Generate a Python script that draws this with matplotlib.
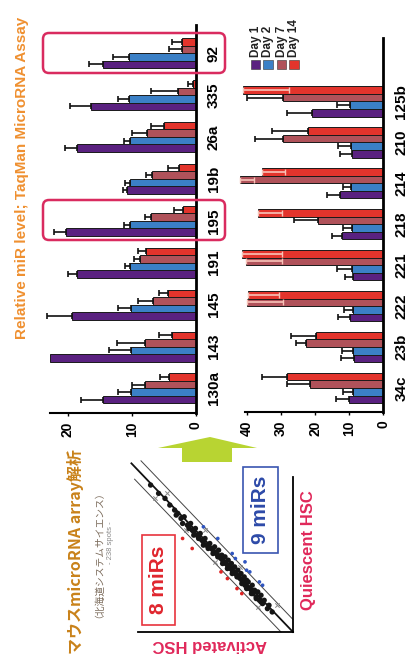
import matplotlib
matplotlib.use("Agg")
import matplotlib.pyplot as plt
import numpy as np
from matplotlib.patches import Rectangle, FancyBboxPatch, Polygon

plt.rcParams["font.family"] = ["Liberation Sans", "Noto Sans CJK JP", "DejaVu Sans"]

W, H = 420, 659

# ---- TaqMan panel A (relative miR level) ----
mirs_a = ["130a", "143", "145", "191", "195", "19b", "26a", "335", "92"]
a_day1 = [14.5, 22.7, 19.4, 18.6, 20.3, 10.7, 18.5, 16.4, 14.5]
a_day1_err = [3.5, 0.0, 3.8, 1.3, 1.9, 0.7, 1.9, 3.3, 2.1]
a_day2 = [10.1, 10.1, 10.1, 10.3, 10.3, 10.3, 10.3, 10.4, 10.5]
a_day2_err = [2.0, 3.5, 2.0, 0.7, 0.9, 0.7, 0.9, 1.8, 2.4]
a_day7 = [8.0, 8.0, 6.6, 8.7, 7.0, 6.9, 7.6, 2.7, 2.2]
a_day7_err = [2.0, 4.3, 2.4, 1.0, 0.9, 0.8, 2.4, 4.3, 1.9]
a_day14 = [4.1, 3.75, 4.3, 7.8, 2.0, 2.6, 4.9, 0.5, 2.2]
a_day14_err = [1.5, 1.95, 1.4, 1.2, 1.4, 1.7, 2.1, 0.75, 1.55]
a_ticks = [0, 10, 20]

# ---- TaqMan panel B ----
mirs_b = ["34c", "23b", "222", "221", "218", "214", "210", "125b"]
b_day1 = [10.0, 8.6, 9.8, 9.0, 12.2, 12.7, 9.3, 21.0]
b_day1_err = [3.9, 3.8, 3.4, 2.2, 2.9, 3.9, 3.4, 7.3]
b_day2 = [9.0, 8.8, 9.0, 9.3, 9.3, 9.6, 9.6, 9.8]
b_day2_err = [2.9, 3.4, 2.5, 4.4, 2.4, 2.1, 3.6, 3.9]
b_day7 = [21.5, 22.6, 39.8, 40.2, 19.0, 42.1, 29.3, 29.5]
b_day7_err = [6.8, 3.1, 0.0, 0.0, 7.1, 0.0, 8.3, 10.5]
b_day7_inner = [0.0, 0.0, 10.5, 10.4, 0.0, 4.1, 0.0, 0.0]
b_day14 = [28.1, 19.7, 39.5, 41.5, 36.6, 35.6, 22.0, 41.2]
b_day14_err = [7.5, 7.3, 0.0, 0.0, 0.0, 0.0, 10.7, 0.0]
b_day14_inner = [0.0, 0.0, 9.1, 11.7, 6.8, 6.8, 0.0, 13.7]
b_ticks = [0, 10, 20, 30, 40]

day_labels = ["Day 1", "Day 2", "Day 7", "Day 14"]
day_colors = ["#5a2180", "#3b80c6", "#b0525a", "#e3342c"]

# ---- microarray scatter (Activated vs Quiescent HSC) ----
black_a = [1.3, 1.5, 1.6, 1.8, 1.9, 2.0, 2.1, 2.2, 2.3, 2.4, 2.5, 2.55, 2.6, 2.7, 2.8, 2.85,
           2.9, 3.0, 3.05, 3.1, 3.2, 3.25, 3.3, 3.4, 3.45, 3.5, 3.6, 3.65, 3.7, 3.8, 3.85, 3.9,
           4.0, 4.05, 4.1, 4.2, 4.25, 4.3, 4.4, 4.45, 4.5, 4.6, 4.65, 4.7, 4.8, 4.9, 5.0, 5.1,
           5.2, 5.3, 5.4, 5.5, 5.6, 5.7, 5.8, 5.9, 6.0, 6.1, 6.2, 6.3, 6.4, 6.5, 6.6, 6.8,
           7.0, 7.2, 7.4, 7.7, 8.0, 8.4, 8.9]
black_q = [1.2, 1.6, 1.4, 1.9, 1.7, 2.2, 1.9, 2.4, 2.1, 2.5, 2.3, 2.8, 2.5, 2.6, 3.0, 2.7,
           3.1, 2.8, 3.3, 3.0, 3.1, 3.5, 3.2, 3.3, 3.7, 3.4, 3.5, 3.9, 3.6, 3.7, 4.1, 3.8,
           3.9, 4.3, 4.0, 4.1, 4.5, 4.2, 4.3, 4.6, 4.4, 4.5, 4.9, 4.6, 4.7, 5.1, 4.9, 5.0,
           5.3, 5.1, 5.2, 5.6, 5.4, 5.5, 5.9, 5.7, 5.8, 6.2, 6.0, 6.1, 6.5, 6.3, 6.4, 6.9,
           6.8, 7.1, 7.3, 7.6, 8.0, 8.3, 8.8]
black2_a = [2.0, 2.3, 2.6, 2.9, 3.2, 3.5, 3.8, 4.1, 4.4, 4.7, 5.0, 5.3, 5.6, 5.9, 6.2, 6.5, 6.9, 7.3]
black2_q = [1.8, 2.0, 2.3, 2.6, 2.9, 3.3, 3.5, 3.8, 4.1, 4.5, 4.7, 5.0, 5.2, 5.6, 5.8, 6.2, 6.5, 7.0]
grey_a = [1.0, 2.2, 3.3, 4.9, 5.5, 6.7, 7.9, 8.6]
grey_q = [1.6, 1.5, 3.9, 4.2, 6.1, 6.1, 8.3, 8.0]
up_a = [8.2, 7.6, 6.9, 6.3, 4.5, 4.1, 3.5, 3.2]
up_q = [5.6, 5.5, 5.6, 5.0, 3.6, 3.2, 2.6, 2.3]
down_a = [5.6, 4.7, 3.8, 3.6, 3.0, 2.9, 2.7, 2.1, 1.9]
down_q = [6.3, 5.6, 4.7, 4.4, 4.2, 3.7, 3.6, 3.0, 2.8]
fold_band = 0.75

fig = plt.figure(figsize=(W / 100, H / 100), dpi=100)
fig.patch.set_facecolor("white")


def px_axes(x0, y0, x1, y1):
    return fig.add_axes([x0 / W, 1 - y1 / H, (x1 - x0) / W, (y1 - y0) / H])


def bar_panel(ax, labels, vals, errs, inner, xmax, ylim, ticks, h, spine_max):
    y = np.arange(len(labels))
    for k in range(4):
        yy = y + (k - 1.5) * h
        v = np.array(vals[k], dtype=float)
        ax.barh(yy, v, height=h, color=day_colors[k], edgecolor="#1a1a1a",
                linewidth=0.7, clip_on=False, zorder=2)
        e = np.array(errs[k], dtype=float)
        m = e > 0
        if m.any():
            ax.errorbar(v[m], yy[m], xerr=[np.zeros(m.sum()), e[m]], fmt="none",
                        ecolor="#111111", elinewidth=1.2, capsize=2.4, capthick=1.2,
                        clip_on=False, zorder=3)
        if inner is not None and inner[k] is not None:
            lo = np.array(inner[k], dtype=float)
            m = lo > 0
            if m.any():
                ax.errorbar(v[m], yy[m], xerr=[lo[m], np.zeros(m.sum())], fmt="none",
                            ecolor="#f8c3b8", elinewidth=1.2, capsize=2.4, capthick=1.0,
                            clip_on=False, zorder=3)
    ax.set_xlim(xmax, 0)
    ax.set_ylim(*ylim)
    ax.set_facecolor("none")
    for s in ("top", "left"):
        ax.spines[s].set_visible(False)
    ax.spines["right"].set_linewidth(2.0)
    ax.spines["bottom"].set_linewidth(1.5)
    ax.spines["bottom"].set_bounds(0, spine_max)
    ax.yaxis.tick_right()
    ax.set_yticks(y)
    ax.set_yticklabels(labels, rotation=90, va="center", fontweight="bold", fontsize=11)
    ax.tick_params(axis="y", length=0, pad=8)
    ax.set_xticks(ticks)
    ax.set_xticklabels([str(t) for t in ticks], rotation=90, ha="center", va="top",
                       fontweight="bold", fontsize=10)
    ax.tick_params(axis="x", length=2, width=1.0, pad=4)


ax_a = px_axes(50, 25, 195.7, 413)
bar_panel(ax_a, mirs_a,
          [a_day1, a_day2, a_day7, a_day14],
          [a_day1_err, a_day2_err, a_day7_err, a_day14_err],
          None, 22.77, (-0.585, 8.67), a_ticks, 0.179, 22.77)

ax_b = px_axes(238, 38, 383.3, 412)
bar_panel(ax_b, mirs_b,
          [b_day1, b_day2, b_day7, b_day14],
          [b_day1_err, b_day2_err, b_day7_err, b_day14_err],
          [None, None, b_day7_inner, b_day14_inner],
          42.55, (-0.587, 8.55), b_ticks, 0.185, 40.5)

# scatter of array spots
ax_s = px_axes(133, 465, 293, 632)
ax_s.set_xlim(10, 0)
ax_s.set_ylim(0, 10)
ax_s.set_facecolor("none")
for s in ("top", "left"):
    ax_s.spines[s].set_visible(False)
ax_s.spines["right"].set_linewidth(1.3)
ax_s.spines["bottom"].set_linewidth(1.3)
ax_s.spines["right"].set_bounds(0, 9.3)
ax_s.spines["bottom"].set_bounds(0, 9.7)
ax_s.set_xticks([])
ax_s.set_yticks([])
ax_s.plot([0, 10.1], [0, 10.1], color="#111111", lw=1.3, clip_on=False, zorder=2)
ax_s.plot([0, 9.5], [fold_band, 9.5 + fold_band], color="#444444", lw=0.7, clip_on=False, zorder=2)
ax_s.plot([fold_band, 9.9], [0, 9.9 - fold_band], color="#444444", lw=0.7, clip_on=False, zorder=2)
ax_s.scatter(grey_a, grey_q, s=10, marker="x", color="#888888", linewidths=0.7, zorder=3)
ax_s.scatter(black_a, black_q, s=15, color="#151515", edgecolors="none", zorder=4)
ax_s.scatter(black2_a, black2_q, s=15, color="#151515", edgecolors="none", zorder=4)
ax_s.scatter(up_a, up_q, s=7, color="#e02424", edgecolors="none", zorder=5)
ax_s.scatter(down_a, down_q, s=7, color="#2f55c0", edgecolors="none", zorder=5)

# overlay in pixel coordinates for annotations
ov = fig.add_axes([0, 0, 1, 1])
ov.set_xlim(0, W)
ov.set_ylim(H, 0)
ov.axis("off")
ov.patch.set_alpha(0)

ov.text(22, 178, "Relative miR level; TaqMan MicroRNA Assay", rotation=90,
        ha="center", va="center", color="#ef9030", fontsize=11, fontweight="bold")

for (y0, y1) in [(33, 73), (200, 240)]:
    ov.add_patch(FancyBboxPatch((43, y0), 182, y1 - y0,
                                boxstyle="round,pad=0,rounding_size=6",
                                ec="#d92b5f", fc="none", lw=1.8))

# legend
leg_x = [255.5, 268, 281.5, 294]
for k in range(4):
    ov.add_patch(Rectangle((leg_x[k] - 4.7, 60), 9.4, 9.4, fc=day_colors[k],
                           ec="#333333", lw=0.4))
    ov.text(leg_x[k], 57, day_labels[k], rotation=90, ha="center", va="bottom",
            fontsize=8.5, fontweight="bold", color="#222222")

# arrow between array and TaqMan panels
ov.add_patch(Polygon([(182, 462), (182, 448), (158, 448), (210, 437), (257, 448),
                      (232, 448), (232, 462)], closed=True, fc="#b8d432", ec="none"))

ov.text(76, 552, "マウスmicroRNA array解析", rotation=90, ha="center", va="center",
        color="#c9821a", fontsize=11.5, fontweight="bold",
        family=["Noto Sans CJK JP", "DejaVu Sans"])
ov.text(94, 550, "（北海道システムサイエンス）", rotation=90, ha="center", va="center",
        color="#7a6a5a", fontsize=7, family=["Noto Sans CJK JP", "DejaVu Sans"])
ov.text(110, 543, "- 238 spots -", rotation=90, ha="center", va="center",
        color="#8a8a8a", fontsize=5.5)

ov.add_patch(Rectangle((142, 535), 33, 90, fc="white", ec="#e8333d", lw=1.2, zorder=5))
ov.text(158.5, 580, "8 miRs", rotation=90, ha="center", va="center",
        color="#e0262e", fontsize=15, fontweight="bold", zorder=6)
ov.add_patch(Rectangle((243, 467), 35, 86, fc="white", ec="#3a55b0", lw=1.2, zorder=5))
ov.text(260.5, 510, "9 miRs", rotation=90, ha="center", va="center",
        color="#2d4aa8", fontsize=15, fontweight="bold", zorder=6)

ov.text(309, 550, "Quiescent HSC", rotation=90, ha="center", va="center",
        color="#e0285a", fontsize=12, fontweight="bold")
ov.text(210, 645, "Activated HSC", rotation=180, ha="center", va="center",
        color="#e0285a", fontsize=12, fontweight="bold")

fig.savefig("out.png", dpi=100)
